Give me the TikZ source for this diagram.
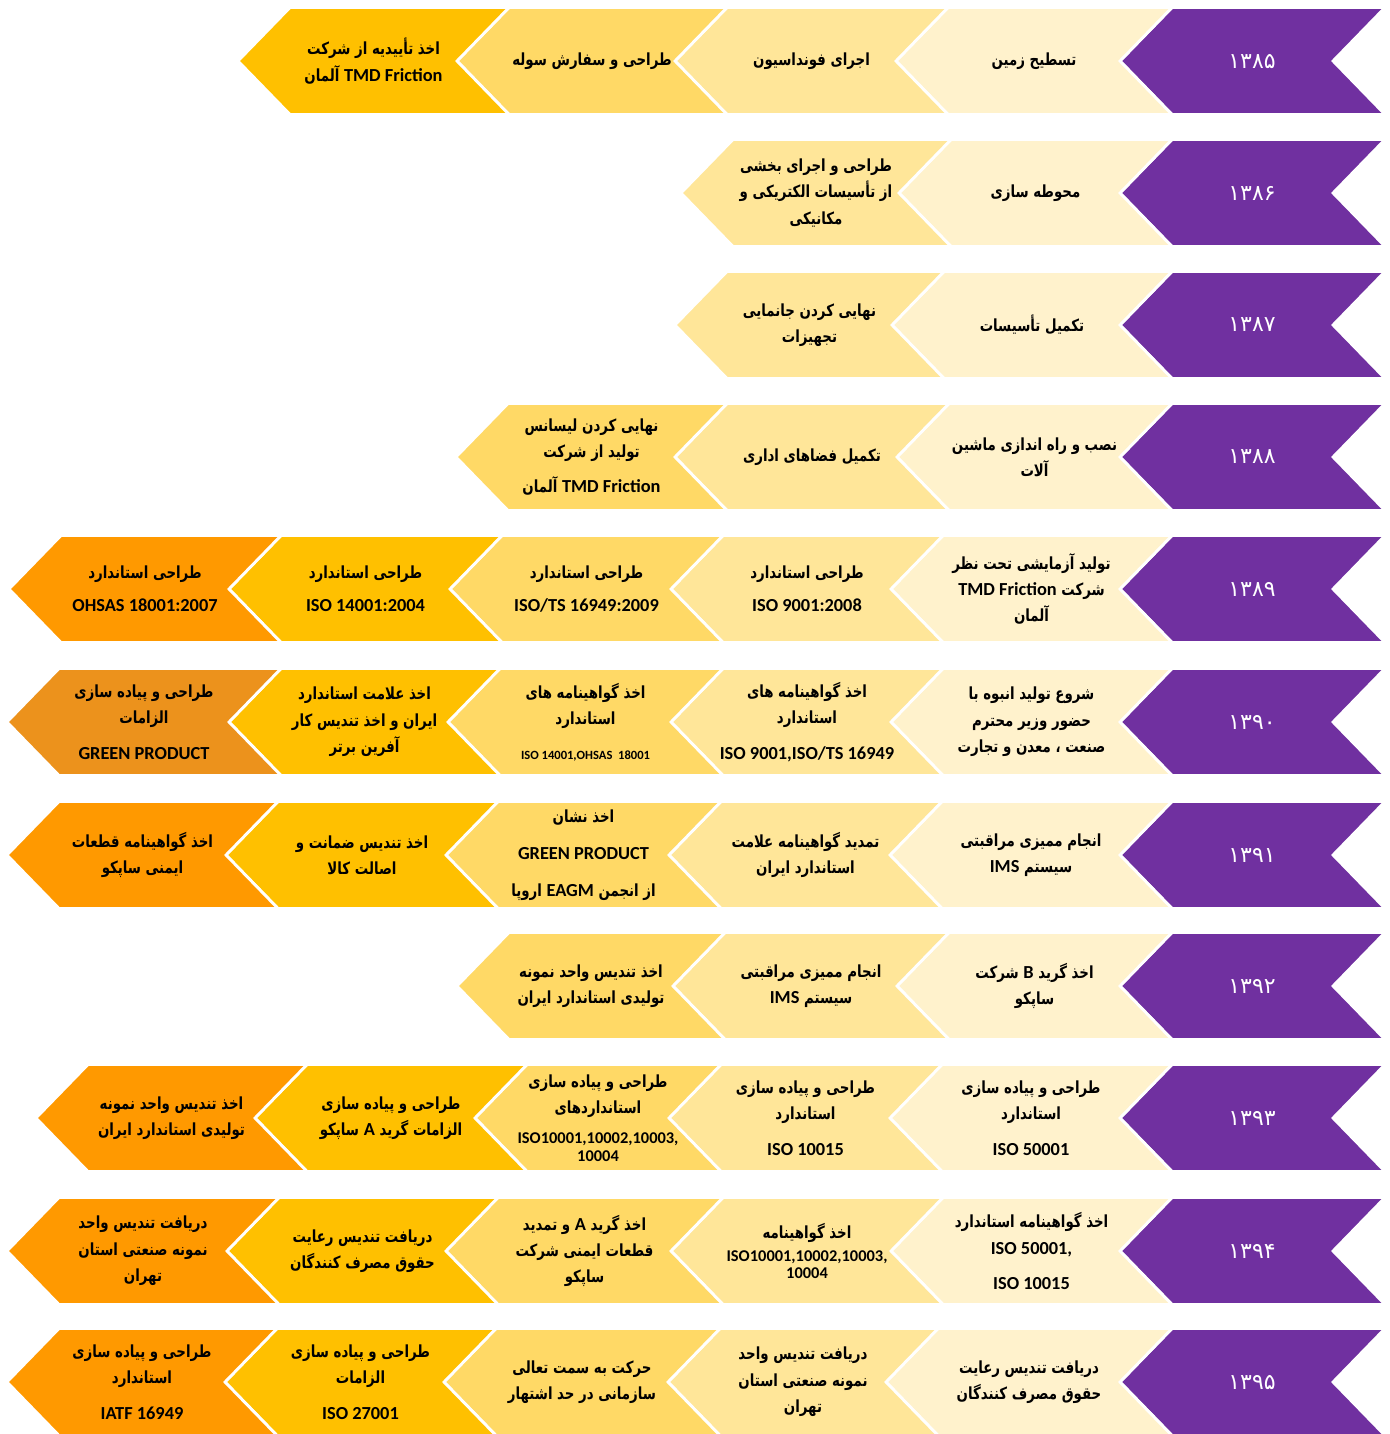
\documentclass[tikz,border=0pt]{standalone}
\usepackage{fontspec}
\newfontfamily\fa[Script=Arabic,FakeStretch=0.8]{DejaVu Sans}
\newfontfamily\digits[Script=Arabic]{DejaVu Sans}
\newfontfamily\lat[Scale=1.1]{Carlito}
\TeXXeTstate=1
\definecolor{purp}{HTML}{7030A0}
\definecolor{cA}{HTML}{FFF2CC}
\definecolor{cB}{HTML}{FFE699}
\definecolor{cC}{HTML}{FFD966}
\definecolor{cD}{HTML}{FFC000}
\definecolor{cE}{HTML}{FF9900}
\definecolor{cF}{HTML}{EC921C}
\newcommand{\rtl}[1]{\beginR #1\endR}
\newcommand{\ltr}[1]{\beginL{\lat #1}\endL}
% one chevron: y of middle, left tip, right tip, colour, name, text
\newcommand{\chev}[6]{%
  \path[cell,fill=#4] (#2,#1) -- ++(52,-53.5) -- ({#3+52},{#1-53.5}) -- (#3,#1)
    -- ({#3+52},{#1+53.5}) -- ({#2+52},{#1+53.5}) -- cycle;
  \node[txt] (#5) at ({(#2+#3)/2+26},#1) {#6};}
% purple year tab
\newcommand{\yr}[3]{%
  \path[cell,fill=purp] (1120,#1) -- ++(52,-53.5) -- (1385,{#1-53.5}) -- (1333,#1)
    -- (1385,{#1+53.5}) -- (1172,{#1+53.5}) -- cycle;
  \node[yeartxt] (#2) at (1252,#1) {#3};}

\begin{document}
\begin{tikzpicture}[x=0.02cm,y=-0.02cm]
\tikzset{cell/.style = {draw=white, line width=1.6pt}}
\tikzset{txt/.style = {align=center, inner sep=0pt, font=\fa\bfseries\fontsize{9.5}{15}\selectfont}}
\tikzset{yeartxt/.style = {text=white, inner sep=0pt, font=\digits\fontsize{12.5}{14}\selectfont}}
\useasboundingbox (0,0) rectangle (1390,1434);

% 1385
\yr{61}{y85}{۱۳۸۵}
\chev{61}{896}{1120}{cA}{r1a}{\rtl{تسطیح زمین}}
\chev{61}{675}{896}{cB}{r1b}{\rtl{اجرای فونداسیون}}
\chev{61}{457}{675}{cC}{r1c}{\rtl{طراحی و سفارش سوله}}
\chev{61}{238}{457}{cD}{r1d}{\rtl{اخذ تأییدیه از شرکت}\\\rtl{\ltr{TMD Friction} آلمان}}

% 1386
\yr{193}{y86}{۱۳۸۶}
\chev{193}{899}{1120}{cA}{r2a}{\rtl{محوطه سازی}}
\chev{193}{681}{899}{cB}{r2b}{\rtl{طراحی و اجرای بخشی}\\\rtl{از تأسیسات الکتریکی و}\\\rtl{مکانیکی}}

% 1387
\yr{325}{y87}{۱۳۸۷}
\chev{325}{892}{1120}{cA}{r3a}{\rtl{تکمیل تأسیسات}}
\chev{325}{675}{892}{cB}{r3b}{\rtl{نهایی کردن جانمایی}\\\rtl{تجهیزات}}

% 1388
\yr{457}{y88}{۱۳۸۸}
\chev{457}{897}{1120}{cA}{r4a}{\rtl{نصب و راه اندازی ماشین}\\\rtl{آلات}}
\chev{457}{675}{897}{cB}{r4b}{\rtl{تکمیل فضاهای اداری}}
\chev{457}{456}{675}{cC}{r4c}{\rtl{نهایی کردن لیسانس}\\\rtl{تولید از شرکت}\\[5pt]\rtl{\ltr{TMD Friction} آلمان}}

% 1389
\yr{589}{y89}{۱۳۸۹}
\chev{589}{891}{1120}{cA}{r5a}{\rtl{تولید آزمایشی تحت نظر}\\\rtl{شرکت \ltr{TMD Friction}}\\\rtl{آلمان}}
\chev{589}{671}{891}{cB}{r5b}{\rtl{طراحی استاندارد}\\[4pt]\ltr{ISO 9001:2008}}
\chev{589}{450}{671}{cC}{r5c}{\rtl{طراحی استاندارد}\\[4pt]\ltr{ISO/TS 16949:2009}}
\chev{589}{229}{450}{cD}{r5d}{\rtl{طراحی استاندارد}\\[4pt]\ltr{ISO 14001:2004}}
\chev{589}{9}{229}{cE}{r5e}{\rtl{طراحی استاندارد}\\[4pt]\ltr{OHSAS 18001:2007}}

% 1390
\yr{722}{y90}{۱۳۹۰}
\chev{722}{891}{1120}{cA}{r6a}{\rtl{شروع تولید انبوه با}\\\rtl{حضور وزیر محترم}\\\rtl{صنعت ، معدن و تجارت}}
\chev{722}{671}{891}{cB}{r6b}{\rtl{اخذ گواهینامه های}\\\rtl{استاندارد}\\[5pt]\ltr{ISO 9001,ISO/TS 16949}}
\chev{722}{448}{671}{cC}{r6c}{\rtl{اخذ گواهینامه های}\\\rtl{استاندارد}\\[5pt]\ltr{\fontsize{6.5}{8}\selectfont ISO 14001,OHSAS\ \ 18001}}
\chev{722}{229}{448}{cD}{r6d}{\rtl{اخذ علامت استاندارد}\\\rtl{ایران و اخذ تندیس کار}\\\rtl{آفرین برتر}}
\chev{722}{7}{229}{cF}{r6e}{\rtl{طراحی و پیاده سازی}\\\rtl{الزامات}\\[5pt]\ltr{GREEN PRODUCT}}

% 1391
\yr{855}{y91}{۱۳۹۱}
\chev{855}{890}{1120}{cA}{r7a}{\rtl{انجام ممیزی مراقبتی}\\\rtl{سیستم \ltr{IMS}}}
\chev{855}{669}{890}{cB}{r7b}{\rtl{تمدید گواهینامه علامت}\\\rtl{استاندارد ایران}}
\chev{855}{446}{669}{cC}{r7c}{\rtl{اخذ نشان}\\[6pt]\ltr{GREEN PRODUCT}\\[6pt]\rtl{از انجمن \ltr{EAGM} اروپا}}
\chev{855}{226}{446}{cD}{r7d}{\rtl{اخذ تندیس ضمانت و}\\\rtl{اصالت کالا}}
\chev{855}{7}{226}{cE}{r7e}{\rtl{اخذ گواهینامه قطعات}\\\rtl{ایمنی ساپکو}}

% 1392
\yr{986}{y92}{۱۳۹۲}
\chev{986}{897}{1120}{cA}{r8a}{\rtl{اخذ گرید \ltr{B} شرکت}\\\rtl{ساپکو}}
\chev{986}{673}{897}{cB}{r8b}{\rtl{انجام ممیزی مراقبتی}\\\rtl{سیستم \ltr{IMS}}}
\chev{986}{457}{673}{cC}{r8c}{\rtl{اخذ تندیس واحد نمونه}\\\rtl{تولیدی استاندارد ایران}}

% 1393
\yr{1118}{y93}{۱۳۹۳}
\chev{1118}{890}{1120}{cA}{r9a}{\rtl{طراحی و پیاده سازی}\\\rtl{استاندارد}\\[5pt]\ltr{ISO 50001}}
\chev{1118}{669}{890}{cB}{r9b}{\rtl{طراحی و پیاده سازی}\\\rtl{استاندارد}\\[5pt]\ltr{ISO 10015}}
\chev{1118}{475}{669}{cC}{r9c}{\rtl{طراحی و پیاده سازی}\\\rtl{استانداردهای}\\[2pt]\ltr{\fontsize{8.5}{10}\selectfont ISO10001,10002,10003,}\\[-5pt]\ltr{\fontsize{8.5}{10}\selectfont 10004}}
\chev{1118}{255}{475}{cD}{r9d}{\rtl{طراحی و پیاده سازی}\\\rtl{الزامات گرید \ltr{A} ساپکو}}
\chev{1118}{36}{255}{cE}{r9e}{\rtl{اخذ تندیس واحد نمونه}\\\rtl{تولیدی استاندارد ایران}}

% 1394
\yr{1251}{y94}{۱۳۹۴}
\chev{1251}{891}{1120}{cA}{r10a}{\rtl{اخذ گواهینامه استاندارد}\\\ltr{ISO 50001,}\\[5pt]\ltr{ISO 10015}}
\chev{1251}{671}{891}{cB}{r10b}{\rtl{اخذ گواهینامه}\\[-2pt]\ltr{\fontsize{8.5}{10}\selectfont ISO10001,10002,10003,}\\[-5pt]\ltr{\fontsize{8.5}{10}\selectfont 10004}}
\chev{1251}{446}{671}{cC}{r10c}{\rtl{اخذ گرید \ltr{A} و تمدید}\\\rtl{قطعات ایمنی شرکت}\\\rtl{ساپکو}}
\chev{1251}{227}{446}{cD}{r10d}{\rtl{دریافت تندیس رعایت}\\\rtl{حقوق مصرف کنندگان}}
\chev{1251}{7}{227}{cE}{r10e}{\rtl{دریافت تندیس واحد}\\\rtl{نمونه صنعتی استان}\\\rtl{تهران}}

% 1395
\yr{1382}{y95}{۱۳۹۵}
\chev{1382}{886}{1120}{cA}{r11a}{\rtl{دریافت تندیس رعایت}\\\rtl{حقوق مصرف کنندگان}}
\chev{1382}{668}{886}{cB}{r11b}{\rtl{دریافت تندیس واحد}\\\rtl{نمونه صنعتی استان}\\\rtl{تهران}}
\chev{1382}{444}{668}{cC}{r11c}{\rtl{حرکت به سمت تعالی}\\\rtl{سازمانی در حد اشتهار}}
\chev{1382}{225}{444}{cD}{r11d}{\rtl{طراحی و پیاده سازی}\\\rtl{الزامات}\\[5pt]\ltr{ISO 27001}}
\chev{1382}{7}{225}{cE}{r11e}{\rtl{طراحی و پیاده سازی}\\\rtl{استاندارد}\\[5pt]\ltr{IATF 16949}}

\end{tikzpicture}
\end{document}
